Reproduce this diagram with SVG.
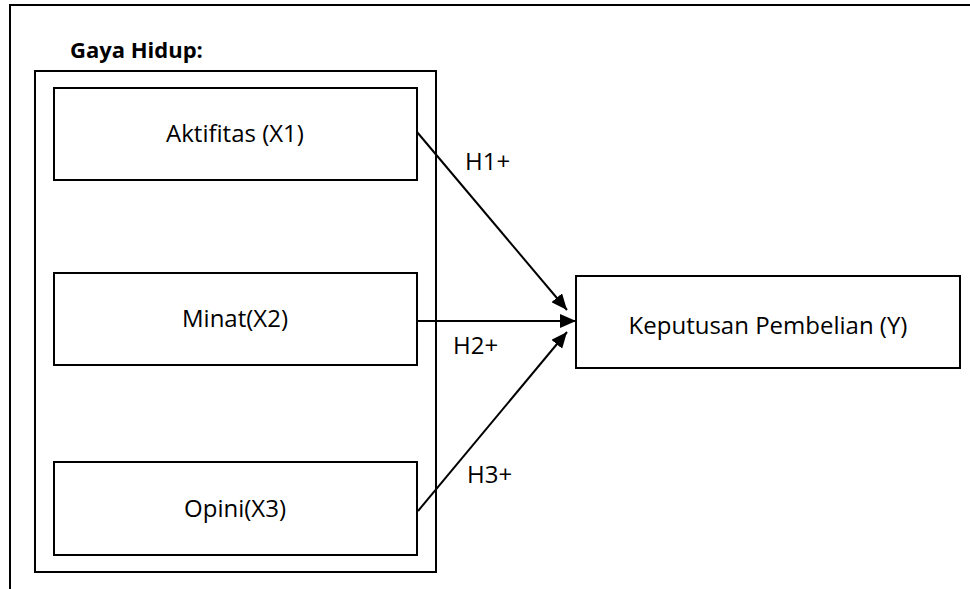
<svg xmlns="http://www.w3.org/2000/svg" width="970" height="589" viewBox="0 0 970 589">
<defs>
<style>
.box{fill:#fff;stroke:#000;stroke-width:2}
.frame{fill:none;stroke:#000;stroke-width:2}
.t{font-family:"Open Sans","Liberation Sans",sans-serif;font-size:24px;fill:#000;text-anchor:middle}
.lbl{font-family:"Open Sans","Liberation Sans",sans-serif;font-size:24px;fill:#000}
.conn{stroke:#000;stroke-width:2;fill:none;marker-end:url(#ah)}
</style>
<marker id="ah" markerWidth="16" markerHeight="14" refX="16" refY="7" orient="auto" markerUnits="userSpaceOnUse" viewBox="0 0 16 14">
<path d="M0,0 L16,7 L0,14 z" fill="#000"/>
</marker>
</defs>
<rect width="970" height="589" fill="#fff"/>
<path class="frame" d="M10,589 V5 H970"/>
<g id="gaya-hidup">
<text x="70" y="58" style="font-family:'Open Sans','Liberation Sans',sans-serif;font-size:22px;font-weight:bold">Gaya Hidup:</text>
<rect class="frame" x="35" y="71" width="401" height="501"/>
</g>
<g id="x1">
<rect class="box" x="54" y="88" width="363" height="92"/>
<text class="t" x="235" y="142">Aktifitas (X1)</text>
</g>
<g id="x2">
<rect class="box" x="54" y="273" width="363" height="92"/>
<text class="t" x="235" y="327">Minat(X2)</text>
</g>
<g id="x3">
<rect class="box" x="54" y="462" width="363" height="93"/>
<text class="t" x="235" y="517">Opini(X3)</text>
</g>
<g id="y">
<rect class="box" x="576" y="276" width="384" height="92"/>
<text class="t" x="768" y="334">Keputusan Pembelian (Y)</text>
</g>
<g id="connectors">
<line class="conn" x1="417" y1="132" x2="567" y2="310"/>
<line class="conn" x1="417" y1="321" x2="576" y2="321"/>
<line class="conn" x1="418" y1="511" x2="567" y2="332"/>
<text class="lbl" x="465" y="170">H1+</text>
<text class="lbl" x="453" y="354">H2+</text>
<text class="lbl" x="467" y="483">H3+</text>
</g>
</svg>
